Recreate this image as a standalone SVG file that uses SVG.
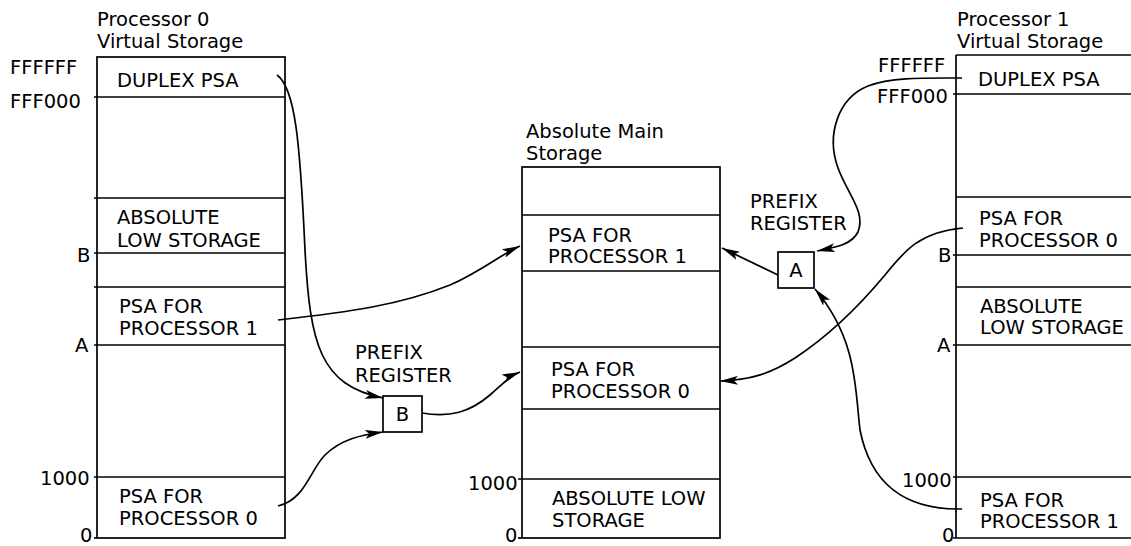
<svg xmlns="http://www.w3.org/2000/svg" width="1131" height="546" viewBox="0 0 1131 546">
<style>
text{font-family:"DejaVu Sans","Liberation Sans",sans-serif;font-size:19.5px;fill:#000}
.c{text-anchor:middle}
.box{fill:none;stroke:#000;stroke-width:1.7}
.ln{stroke:#000;stroke-width:1.7}
.con{fill:none;stroke:#000;stroke-width:1.7}
</style>
<defs>
<marker id="ah" viewBox="0 0 18 9" refX="18" refY="4.5" markerWidth="18" markerHeight="9" markerUnits="userSpaceOnUse" orient="auto">
<path d="M0,0 L18,4.5 L0,9 L4,4.5 z" fill="#000"/>
</marker>
</defs>
<rect width="1131" height="546" fill="#fff"/>

<g id="proc0">
<text x="97" y="26">Processor 0</text>
<text x="97" y="48">Virtual Storage</text>
<rect class="box" x="97" y="57" width="188" height="481"/>
<line class="ln" x1="94" y1="97" x2="285" y2="97"/>
<line class="ln" x1="94" y1="198" x2="285" y2="198"/>
<line class="ln" x1="94" y1="253" x2="285" y2="253"/>
<line class="ln" x1="94" y1="287" x2="285" y2="287"/>
<line class="ln" x1="94" y1="345" x2="285" y2="345"/>
<line class="ln" x1="94" y1="477" x2="285" y2="477"/>
<line class="ln" x1="94" y1="538" x2="97" y2="538"/>
<text x="10" y="74">FFFFFF</text>
<text x="10" y="108">FFF000</text>
<text x="117" y="87">DUPLEX PSA</text>
<text x="117" y="224">ABSOLUTE</text>
<text x="117" y="247">LOW STORAGE</text>
<text x="77" y="262">B</text>
<text x="119" y="313">PSA FOR</text>
<text x="119" y="335">PROCESSOR 1</text>
<text x="75" y="352">A</text>
<text x="40" y="485">1000</text>
<text x="119" y="503">PSA FOR</text>
<text x="119" y="525">PROCESSOR 0</text>
<text x="80" y="542">0</text>
</g>

<g id="main">
<text x="526" y="138">Absolute Main</text>
<text x="526" y="160">Storage</text>
<rect class="box" x="522" y="167" width="198" height="371"/>
<line class="ln" x1="522" y1="215" x2="720" y2="215"/>
<line class="ln" x1="522" y1="271" x2="720" y2="271"/>
<line class="ln" x1="522" y1="347" x2="720" y2="347"/>
<line class="ln" x1="522" y1="409" x2="720" y2="409"/>
<line class="ln" x1="518" y1="479" x2="720" y2="479"/>
<line class="ln" x1="518" y1="538" x2="522" y2="538"/>
<text x="548" y="242">PSA FOR</text>
<text x="548" y="263">PROCESSOR 1</text>
<text x="551" y="376">PSA FOR</text>
<text x="551" y="398">PROCESSOR 0</text>
<text x="552" y="505">ABSOLUTE LOW</text>
<text x="552" y="527">STORAGE</text>
<text x="468" y="490">1000</text>
<text x="505" y="542">0</text>
</g>

<g id="prefixB">
<text x="355" y="359">PREFIX</text>
<text x="355" y="382">REGISTER</text>
<rect class="box" x="383" y="396" width="39" height="36"/>
<text class="c" x="402.5" y="421">B</text>
</g>

<g id="prefixA">
<text x="750" y="208">PREFIX</text>
<text x="750" y="230">REGISTER</text>
<rect class="box" x="778" y="252" width="36" height="36"/>
<text class="c" x="796" y="277">A</text>
</g>

<g id="proc1">
<text x="957" y="26">Processor 1</text>
<text x="957" y="48">Virtual Storage</text>
<line class="ln" x1="956" y1="55" x2="1131" y2="55"/>
<line class="ln" x1="956" y1="55" x2="956" y2="538"/>
<line class="ln" x1="953" y1="94" x2="1131" y2="94"/>
<line class="ln" x1="956" y1="197" x2="1131" y2="197"/>
<line class="ln" x1="953" y1="255" x2="1131" y2="255"/>
<line class="ln" x1="956" y1="287" x2="1131" y2="287"/>
<line class="ln" x1="953" y1="345" x2="1131" y2="345"/>
<line class="ln" x1="953" y1="477" x2="1131" y2="477"/>
<line class="ln" x1="953" y1="538" x2="1131" y2="538"/>
<text x="878" y="72">FFFFFF</text>
<text x="877" y="103">FFF000</text>
<text x="978" y="86">DUPLEX PSA</text>
<text x="979" y="225">PSA FOR</text>
<text x="979" y="247">PROCESSOR 0</text>
<text x="938" y="262">B</text>
<text x="980" y="313">ABSOLUTE</text>
<text x="980" y="334">LOW STORAGE</text>
<text x="937" y="352">A</text>
<text x="902" y="487">1000</text>
<text x="980" y="507">PSA FOR</text>
<text x="980" y="528">PROCESSOR 1</text>
<text x="942" y="542">0</text>
</g>

<g id="connectors">
<path class="con" marker-end="url(#ah)" d="M277,75 C295,88 300,140 305,250 C310,345 320,385 383,398"/>
<path class="con" marker-end="url(#ah)" d="M278,320 C350,312 400,305 450,285 C480,272 500,255 520,246"/>
<path class="con" marker-end="url(#ah)" d="M278,506 C305,500 310,470 325,455 C340,440 360,435 383,432"/>
<path class="con" marker-end="url(#ah)" d="M422,413 C450,418 470,412 490,395 C505,382 510,376 520,372"/>
<path class="con" marker-end="url(#ah)" d="M962,78 C925,78 892,77 868,86 C838,98 826,135 838,168 C848,195 866,212 858,232 C852,244 838,247 817,251"/>
<path class="con" marker-end="url(#ah)" d="M963,228 C920,232 905,250 885,275 C860,305 830,335 795,358 C770,374 750,380 720,381"/>
<path class="con" marker-end="url(#ah)" d="M962,509 C900,510 870,480 860,430 C855,390 858,340 815,289"/>
<path class="con" marker-end="url(#ah)" d="M778,275 L722,248"/>
</g>
</svg>
